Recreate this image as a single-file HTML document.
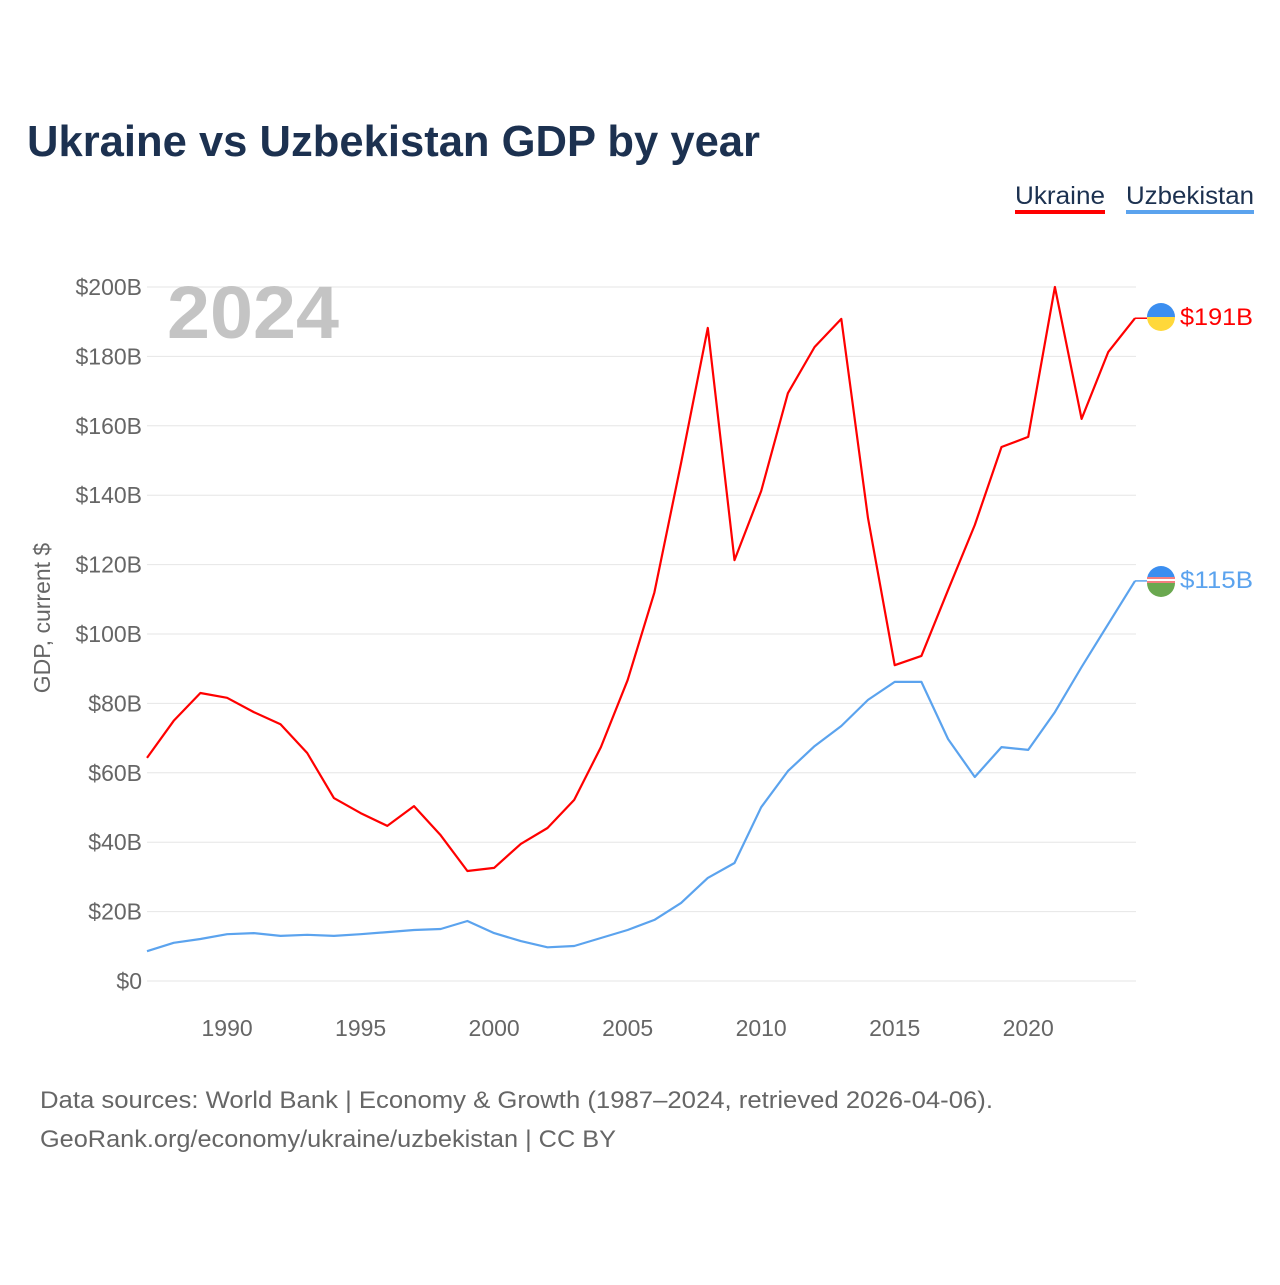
<!DOCTYPE html>
<html><head><meta charset="utf-8"><style>
body{margin:0;background:#fff;font-family:"Liberation Sans",sans-serif}
svg text{font-family:"Liberation Sans",sans-serif}
</style></head><body>
<svg id="chart" width="1280" height="1280" xmlns="http://www.w3.org/2000/svg">
<rect width="1280" height="1280" fill="#fff"/>
<text x="27" y="156" font-size="44" font-weight="bold" fill="#1c3150" textLength="733" lengthAdjust="spacingAndGlyphs">Ukraine vs Uzbekistan GDP by year</text>
<g>
<text x="1015" y="204" font-size="25" fill="#1c3150" textLength="90" lengthAdjust="spacingAndGlyphs">Ukraine</text>
<rect x="1015" y="210" width="90" height="4" fill="#ff0000"/></g>
<g>
<text x="1126" y="204" font-size="25" fill="#1c3150" textLength="128" lengthAdjust="spacingAndGlyphs">Uzbekistan</text>
<rect x="1126" y="210" width="128" height="4" fill="#5ba3ee"/></g>
<g id="grid"></g>
<g id="yticks"></g>
<g id="xticks"></g>
<text x="167" y="338" font-size="74" font-weight="bold" fill="#c4c4c4" textLength="172" lengthAdjust="spacingAndGlyphs">2024</text>
<text transform="translate(50,618) rotate(-90)" text-anchor="middle" font-size="23" fill="#666">GDP, current $</text>
<g id="series"></g>
<g>
<path d="M1147,317 a14,14 0 0 1 28,0 z" fill="#3b8ef0"/><path d="M1147,317 a14,14 0 0 0 28,0 z" fill="#ffd83a"/></g>
<g>
<path d="M1147,580 a14,14 0 0 1 28,0 z" fill="#3b8ef0"/><rect x="1147" y="577" width="28" height="6" fill="#fff"/><line x1="1147" y1="578" x2="1175" y2="578" stroke="#e33" stroke-width="1.2"/><line x1="1147" y1="582" x2="1175" y2="582" stroke="#e33" stroke-width="1.2"/><path d="M1147,583 a14,14 0 0 0 28,0 z" fill="#6aa84f"/></g>
<text x="1180" y="325" font-size="24" fill="#ff0000" textLength="73" lengthAdjust="spacingAndGlyphs">$191B</text>
<text x="1180" y="588" font-size="24" fill="#5ba3ee" textLength="73" lengthAdjust="spacingAndGlyphs">$115B</text>
<text x="40" y="1108" font-size="24" fill="#666" textLength="953" lengthAdjust="spacingAndGlyphs">Data sources: World Bank | Economy &amp; Growth (1987–2024, retrieved 2026-04-06).</text>
<text x="40" y="1147" font-size="24" fill="#666" textLength="576" lengthAdjust="spacingAndGlyphs">GeoRank.org/economy/ukraine/uzbekistan | CC BY</text>
</svg>
<script>
const years=[];for(let y=1987;y<=2024;y++)years.push(y);
const ukraine=[64.3,75,83,81.6,77.5,74,65.7,52.7,48.4,44.7,50.4,42,31.7,32.6,39.5,44.1,52.2,67.4,86.7,112,149.3,188.2,121.3,141.2,169.4,182.7,190.8,133.4,91,93.7,112.7,131.4,153.9,156.8,200,162,181.3,191];
const uzbekistan=[8.6,11,12.1,13.5,13.8,13,13.3,13,13.5,14.1,14.7,15,17.3,13.8,11.5,9.7,10.1,12.4,14.7,17.6,22.5,29.7,34,50.1,60.5,67.7,73.5,81,86.2,86.2,69.7,58.8,67.4,66.6,77.5,90.5,102.9,115.3];
const yTicks=[0,20,40,60,80,100,120,140,160,180,200];
const xTicks=[1990,1995,2000,2005,2010,2015,2020];
const NS="http://www.w3.org/2000/svg";
const xs=y=>147+(y-1987)*(1135-147)/37;
const ys=v=>981-v*(981-287)/200;
function mk(t,a,p){const e=document.createElementNS(NS,t);for(const k in a)e.setAttribute(k,a[k]);p.appendChild(e);return e;}
const grid=document.getElementById('grid'),yt=document.getElementById('yticks'),xt=document.getElementById('xticks'),ser=document.getElementById('series');
yTicks.forEach(v=>{
const l=mk('line',{x1:147,x2:1136,y1:ys(v),y2:ys(v),stroke:'#e6e6e6','stroke-width':1},grid);


const t=mk('text',{x:142,y:ys(v)+8,'text-anchor':'end','font-size':23,fill:'#666'},yt);
t.textContent='$'+v+(v?'B':'');


});
xTicks.forEach(v=>{
const t=mk('text',{x:xs(v),y:1036,'text-anchor':'middle','font-size':23,fill:'#666'},xt);
t.textContent=v;


});
function line(data,color,name){
const d=data.map((v,i)=>(i?'L':'M')+xs(years[i]).toFixed(1)+','+ys(v).toFixed(1)).join('');
const p=mk('path',{d:d,fill:'none',stroke:color,'stroke-width':2.2,'stroke-linejoin':'round'},ser);


const last=data[data.length-1];
const c=mk('line',{x1:xs(2024),x2:1147,y1:ys(last),y2:ys(last),stroke:color,'stroke-width':1.5},ser);


}
line(uzbekistan,'#5ba3ee','line-uzbekistan');
line(ukraine,'#ff0000','line-ukraine');
</script>
</body></html>
